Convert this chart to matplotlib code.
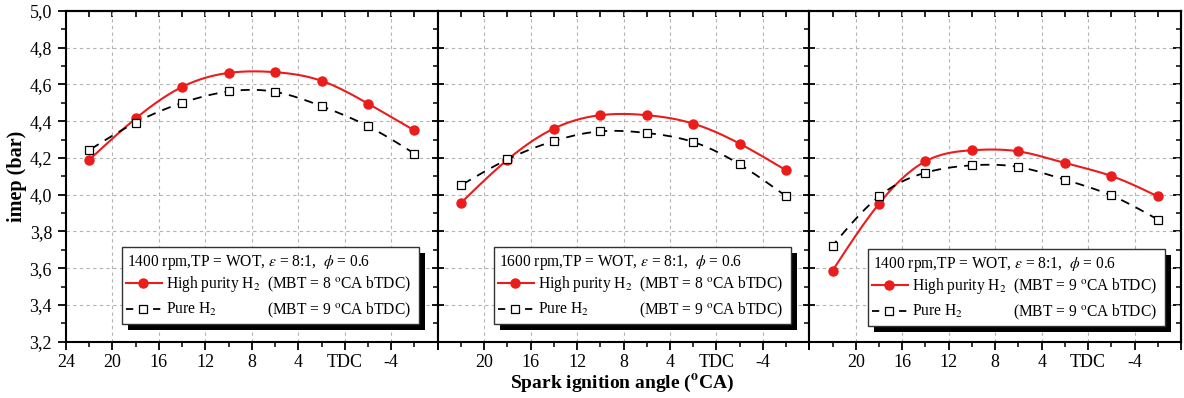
import numpy as np
import matplotlib
matplotlib.use('Agg')
import matplotlib.pyplot as plt
from matplotlib.patches import Rectangle
from matplotlib.lines import Line2D
from matplotlib.ticker import FixedLocator, MultipleLocator, FuncFormatter

plt.rcParams['font.family'] = ['Liberation Serif', 'DejaVu Serif']
plt.rcParams['mathtext.fontset'] = 'stix'

# spark timing (deg CA before TDC)
angle = [22, 18, 14, 10, 6, 2, -2, -6]

# imep (bar), one pair of series per panel
imep_hp_1400 = [4.19, 4.415, 4.587, 4.663, 4.667, 4.62, 4.496, 4.35]
imep_pure_1400 = [4.243, 4.393, 4.50, 4.562, 4.56, 4.482, 4.373, 4.224]
imep_hp_1600 = [3.955, 4.19, 4.36, 4.433, 4.433, 4.387, 4.278, 4.133]
imep_pure_1600 = [4.051, 4.192, 4.292, 4.345, 4.336, 4.287, 4.165, 3.992]
imep_hp_3 = [3.587, 3.951, 4.182, 4.242, 4.236, 4.173, 4.102, 3.991]
imep_pure_3 = [3.723, 3.991, 4.12, 4.16, 4.151, 4.082, 3.996, 3.865]

titles = ['1400 rpm,TP = WOT, $\\varepsilon$ = 8:1,  $\\phi$ = 0.6',
          '1600 rpm,TP = WOT, $\\varepsilon$ = 8:1,  $\\phi$ = 0.6',
          '1400 rpm,TP = WOT, $\\varepsilon$ = 8:1,  $\\phi$ = 0.6']
mbt_hp = [8, 8, 9]
mbt_pure = [9, 9, 9]

xticks = [24, 20, 16, 12, 8, 4, 0, -4, -8]
xticklabels = ['24', '20', '16', '12', '8', '4', 'TDC', '-4', '']

RED = '#ea1c1c'
LEG_FS = 11.2


def spline(x, y, num=300):
    # natural cubic spline through the measured points
    x = np.asarray(x, float)
    y = np.asarray(y, float)
    o = np.argsort(x)
    x, y = x[o], y[o]
    n = len(x)
    h = np.diff(x)
    A = np.zeros((n, n))
    r = np.zeros(n)
    A[0, 0] = A[-1, -1] = 1
    for i in range(1, n - 1):
        A[i, i - 1] = h[i - 1]
        A[i, i] = 2 * (h[i - 1] + h[i])
        A[i, i + 1] = h[i]
        r[i] = 6 * ((y[i + 1] - y[i]) / h[i] - (y[i] - y[i - 1]) / h[i - 1])
    M = np.linalg.solve(A, r)
    xs = np.linspace(x[0], x[-1], num)
    k = np.clip(np.searchsorted(x, xs) - 1, 0, n - 2)
    hk = h[k]
    a = x[k + 1] - xs
    b = xs - x[k]
    ys = (M[k] * a ** 3 + M[k + 1] * b ** 3) / (6 * hk) \
        + (y[k] / hk - M[k] * hk / 6) * a + (y[k + 1] / hk - M[k + 1] * hk / 6) * b
    return xs, ys


W, H = 1184, 398
fig = plt.figure(figsize=(W / 100, H / 100), dpi=100)
left, right, top, bottom = 66, 1181, 11, 341.7
fig.subplots_adjust(left=left / W, right=right / W, top=1 - top / H,
                    bottom=1 - bottom / H, wspace=0)
axes = fig.subplots(1, 3, sharey=True)

ax_w = (right - left) / 3
ax_h = bottom - top

series = [(imep_hp_1400, imep_pure_1400), (imep_hp_1600, imep_pure_1600),
          (imep_hp_3, imep_pure_3)]
box_left = [55.7, 56.3, 58.7]
box_bottom = [18.2, 18.0, 16.0]
box_w, box_h = 297, 77

for j, ax in enumerate(axes):
    hp, pure = series[j]
    xs, ys = spline(angle, hp)
    ax.plot(xs, ys, color=RED, lw=1.5, zorder=3)
    ax.plot(angle, hp, 'o', color=RED, ms=6.5, zorder=4)
    xs, ys = spline(angle, pure)
    ax.plot(xs, ys, color='k', lw=1.3, ls=(0, (5, 4)), zorder=5)
    ax.plot(angle, pure, 's', mfc='white', mec='k', mew=0.9, ms=5.5, zorder=6)

    ax.set_xlim(24, -8)
    ax.set_ylim(3.2, 5.0)
    ax.xaxis.set_major_locator(FixedLocator(xticks))
    ax.set_xticklabels(xticklabels if j == 0 else [''] + xticklabels[1:])
    ax.xaxis.set_minor_locator(MultipleLocator(2))
    ax.yaxis.set_major_locator(MultipleLocator(0.2))
    ax.yaxis.set_minor_locator(MultipleLocator(0.1))
    ax.yaxis.set_major_formatter(FuncFormatter(lambda v, p: f'{v:.1f}'.replace('.', ',')))
    ax.grid(True, which='major', color='#b4b4b4', lw=0.8, ls=(0, (3, 3)))
    ax.set_axisbelow(True)
    for s in ax.spines.values():
        s.set_linewidth(1.5)
    ax.tick_params(axis='x', which='major', direction='out', length=6, width=1.3,
                   labelsize=13, pad=3, top=False)
    ax.tick_params(axis='x', which='minor', direction='out', length=3.5, width=1.1, top=False)
    ydir = 'out' if j == 0 else 'inout'
    ax.tick_params(axis='y', which='major', direction=ydir, length=6 if j == 0 else 8,
                   width=1.3, labelsize=13, pad=4, right=False)
    ax.tick_params(axis='y', which='minor', direction='out', length=3.5, width=1.1, right=False)

    sx = ax.secondary_xaxis('top')
    sx.xaxis.set_major_locator(FixedLocator(xticks))
    sx.xaxis.set_minor_locator(MultipleLocator(2))
    sx.tick_params(which='both', direction='in', length=4.5, width=1.2, labeltop=False)
    sx.spines['top'].set_linewidth(1.5)

    # legend box with offset shadow
    fx, fy = 1 / ax_w, 1 / ax_h
    bx, by = box_left[j], box_bottom[j]
    ax.add_patch(Rectangle(((bx + 6) * fx, (by - 6) * fy), box_w * fx, box_h * fy,
                           transform=ax.transAxes, facecolor='k', edgecolor='none', zorder=9))
    ax.add_patch(Rectangle((bx * fx, by * fy), box_w * fx, box_h * fy,
                           transform=ax.transAxes, facecolor='white', edgecolor='#333333',
                           lw=1.0, zorder=10))
    btop = by + box_h
    ax.text((bx + 5) * fx, (btop - 19.3) * fy, titles[j], transform=ax.transAxes,
            fontsize=LEG_FS, va='baseline', ha='left', zorder=11)
    y2 = (btop - 36) * fy
    ax.add_line(Line2D([(bx + 4) * fx, (bx + 21) * fx, (bx + 40) * fx], [y2] * 3,
                       transform=ax.transAxes, color=RED, lw=1.5, marker='o', ms=6.5,
                       markevery=[1], zorder=11))
    ax.text((bx + 44) * fx, (btop - 41.6) * fy, 'High purity H$_2$', transform=ax.transAxes,
            fontsize=LEG_FS, va='baseline', ha='left', zorder=11)
    ax.text((bx + 145) * fx, (btop - 41.6) * fy, '(MBT = %d $^{\\rm o}$CA bTDC)' % mbt_hp[j],
            transform=ax.transAxes, fontsize=LEG_FS, va='baseline', ha='left', zorder=11)
    y3 = (btop - 62.3) * fy
    ax.add_line(Line2D([(bx + 4) * fx, (bx + 21) * fx, (bx + 40) * fx], [y3] * 3,
                       transform=ax.transAxes, color='k', lw=1.3, ls=(0, (4, 3.5)),
                       marker='s', mfc='white', mec='k', mew=0.9, ms=5.5,
                       markevery=[1], zorder=11))
    ax.text((bx + 44) * fx, (btop - 67.6) * fy, 'Pure H$_2$', transform=ax.transAxes,
            fontsize=LEG_FS, va='baseline', ha='left', zorder=11)
    ax.text((bx + 145) * fx, (btop - 67.6) * fy, '(MBT = %d $^{\\rm o}$CA bTDC)' % mbt_pure[j],
            transform=ax.transAxes, fontsize=LEG_FS, va='baseline', ha='left', zorder=11)

sy = axes[2].secondary_yaxis('right')
sy.yaxis.set_major_locator(MultipleLocator(0.2))
sy.yaxis.set_minor_locator(MultipleLocator(0.1))
sy.tick_params(which='major', direction='in', length=6, width=1.3, labelright=False)
sy.tick_params(which='minor', direction='in', length=3.5, width=1.1)
sy.spines['right'].set_linewidth(1.5)

fig.text(16.7 / W, 1 - 176 / H, 'imep (bar)', rotation=90, fontsize=14.5,
         fontweight='bold', ha='center', va='center')
fig.text(622 / W, 1 - 388 / H, 'Spark ignition angle ($\\mathbf{^o}$CA)', fontsize=14,
         fontweight='bold', ha='center', va='baseline')

fig.savefig('out.png', dpi=100)
